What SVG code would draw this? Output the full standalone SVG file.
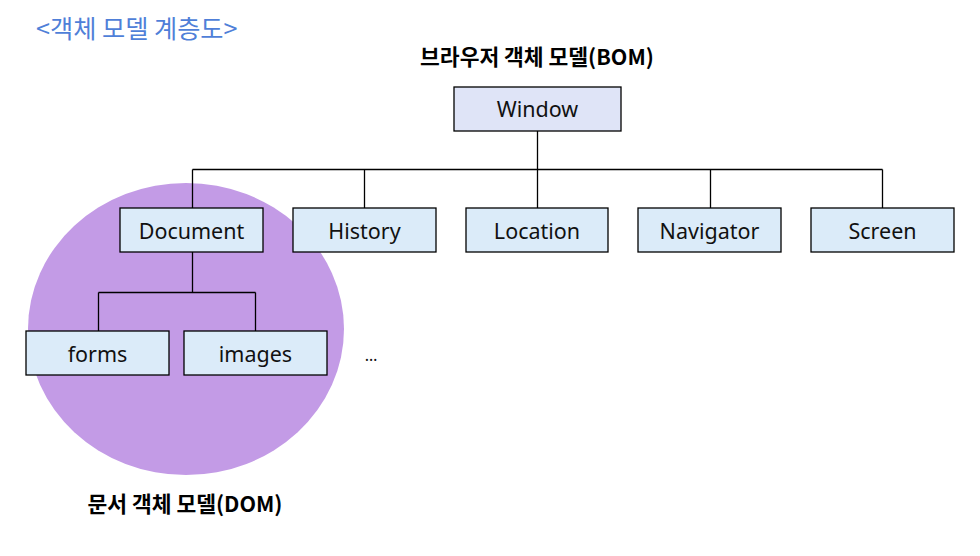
<svg xmlns="http://www.w3.org/2000/svg" width="980" height="556" viewBox="0 0 980 556">
<style>
.box{fill:#dbebf9;stroke:#000;stroke-width:1.3}
.root{fill:#dfe4f7;stroke:#000;stroke-width:1.3}
.lbl{font-family:"Noto Sans","Open Sans","Noto Sans CJK KR",sans-serif;font-size:21.5px;fill:#111;text-anchor:middle}
.ttl{font-family:"Noto Sans CJK KR","Noto Sans",sans-serif;font-size:21.5px;font-weight:bold;fill:#000;text-anchor:middle}
.conn{fill:none;stroke:#000;stroke-width:1.3}
</style>
<rect width="980" height="556" fill="#fff"/>
<ellipse id="dom-area" cx="186" cy="329" rx="158" ry="146" fill="#c39be6"/>
<text x="36" y="38" font-family="'Noto Sans CJK KR','Noto Sans',sans-serif" font-size="25.2" fill="#4f7fd8">&lt;객체 모델 계층도&gt;</text>
<text class="ttl" x="537" y="65">브라우저 객체 모델(BOM)</text>
<text class="ttl" x="185" y="512">문서 객체 모델(DOM)</text>
<g id="connectors">
<path class="conn" d="M537.5 131V169.5M192.5 169.5H882.5M192.5 169.5V208M364.5 169.5V208M537.5 169.5V208M710.5 169.5V208M882.5 169.5V208"/>
<path class="conn" d="M192.5 252V292.5M98.5 292.5H255.5M98.5 292.5V331M255.5 292.5V331"/>
</g>
<g id="window"><rect class="root" x="454" y="87" width="167" height="44"/><text class="lbl" x="537.5" y="116.5">Window</text></g>
<g id="document"><rect class="box" x="120" y="208" width="143" height="44"/><text class="lbl" x="191.5" y="238.5">Document</text></g>
<g id="history"><rect class="box" x="293" y="208" width="143" height="44"/><text class="lbl" x="364.5" y="238.5">History</text></g>
<g id="location"><rect class="box" x="466" y="208" width="142" height="44"/><text class="lbl" x="537" y="238.5">Location</text></g>
<g id="navigator"><rect class="box" x="638" y="208" width="143" height="44"/><text class="lbl" x="709.5" y="238.5">Navigator</text></g>
<g id="screen"><rect class="box" x="811" y="208" width="143" height="44"/><text class="lbl" x="882.5" y="238.5">Screen</text></g>
<g id="forms"><rect class="box" x="26" y="331" width="143" height="44"/><text class="lbl" x="97.5" y="361.5">forms</text></g>
<g id="images"><rect class="box" x="184" y="331" width="143" height="44"/><text class="lbl" x="255.5" y="361.5">images</text></g>
<text x="371" y="361" font-family="'Noto Sans',sans-serif" font-size="16" fill="#111" text-anchor="middle">…</text>
</svg>
